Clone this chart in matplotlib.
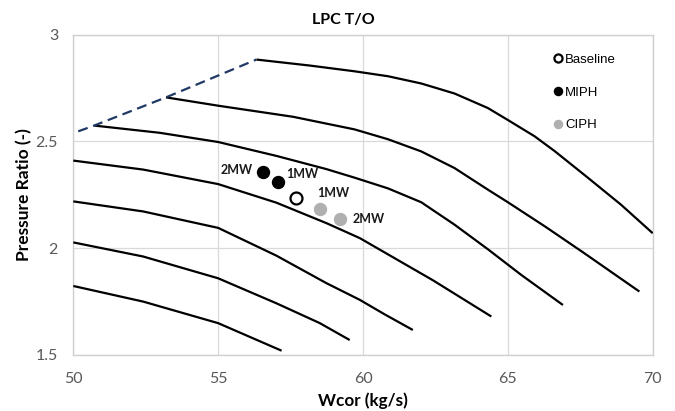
import numpy as np
import matplotlib.pyplot as plt
from matplotlib.lines import Line2D

# --- Data ---
# speed lines (corrected mass flow, pressure ratio)
w_n1 = [56.32, 58.16, 59.71, 60.86, 62.01, 63.16, 64.31, 65.0, 65.92, 66.61, 67.76, 68.91, 70.0]
pr_n1 = [2.883, 2.855, 2.828, 2.805, 2.771, 2.724, 2.656, 2.60, 2.524, 2.455, 2.33, 2.203, 2.07]
w_n2 = [53.20, 55.0, 57.59, 59.71, 60.86, 62.01, 63.16, 64.31, 65.0, 66.3, 67.6, 69.54]
pr_n2 = [2.706, 2.667, 2.615, 2.556, 2.51, 2.453, 2.375, 2.274, 2.215, 2.10, 1.98, 1.797]
w_n3 = [50.72, 52.99, 55.0, 57.01, 58.74, 59.71, 60.86, 62.01, 63.16, 64.31, 65.46, 66.9]
pr_n3 = [2.574, 2.54, 2.497, 2.432, 2.37, 2.33, 2.28, 2.215, 2.11, 1.995, 1.875, 1.734]
w_n4 = [50.0, 52.41, 55.0, 57.01, 58.74, 59.89, 62.41, 64.43]
pr_n4 = [2.41, 2.368, 2.30, 2.213, 2.117, 2.047, 1.85, 1.68]
w_n5 = [50.0, 52.41, 55.0, 57.01, 58.74, 59.89, 60.75, 61.72]
pr_n5 = [2.219, 2.172, 2.095, 1.965, 1.836, 1.758, 1.69, 1.617]
w_n6 = [50.0, 52.41, 55.0, 57.01, 58.51, 59.54]
pr_n6 = [2.027, 1.961, 1.859, 1.742, 1.649, 1.57]
w_n7 = [50.0, 52.41, 55.0, 57.19]
pr_n7 = [1.823, 1.75, 1.649, 1.52]

speed_lines = [(w_n1, pr_n1), (w_n2, pr_n2), (w_n3, pr_n3), (w_n4, pr_n4),
               (w_n5, pr_n5), (w_n6, pr_n6), (w_n7, pr_n7)]

# surge line
w_surge = [50.17, 50.72, 53.20, 56.32]
pr_surge = [2.547, 2.574, 2.706, 2.883]

# operating points
w_base = [57.67]
pr_base = [2.233]
miph_labels = ["2MW", "1MW"]
w_miph = [56.55, 57.05]
pr_miph = [2.357, 2.308]
ciph_labels = ["1MW", "2MW"]
w_ciph = [58.53, 59.22]
pr_ciph = [2.183, 2.138]

x_ticks = [50, 55, 60, 65, 70]
y_ticks = [1.5, 2, 2.5, 3]

# --- Figure ---
fig = plt.figure(figsize=(6.75, 4.11), dpi=100)
ax = fig.add_axes([0.1086, 0.1363, 0.8584, 0.7796])

for w, pr in speed_lines:
    ax.plot(w, pr, color="black", lw=1.6, solid_capstyle="butt",
            solid_joinstyle="round", zorder=3)

ax.plot(w_surge, pr_surge, color="#1f3864", lw=1.6, ls=(0, (4.5, 2.6)), zorder=3)

ms = 8.6
ax.plot(w_base, pr_base, "o", ms=ms, mfc="white", mec="black", mew=1.6, ls="none", zorder=4)
ax.plot(w_miph, pr_miph, "o", ms=ms, color="black", ls="none", zorder=4)
ax.plot(w_ciph, pr_ciph, "o", ms=ms, color="#b0b0b0", ls="none", zorder=4)

lab_font = dict(family="Lato", weight="bold", size=9, color="#1a1a1a")
# label offsets (points) relative to each marker
miph_off = [(-7.5, 1.7, "right"), (6.0, 6.0, "left")]
ciph_off = [(-2.5, 11.5, "left"), (9.0, 0.0, "left")]
for lab, w, pr, (dx, dy, ha) in zip(miph_labels, w_miph, pr_miph, miph_off):
    ax.annotate(lab, (w, pr), xytext=(dx, dy), textcoords="offset points",
                ha=ha, va="center", **lab_font)
for lab, w, pr, (dx, dy, ha) in zip(ciph_labels, w_ciph, pr_ciph, ciph_off):
    ax.annotate(lab, (w, pr), xytext=(dx, dy), textcoords="offset points",
                ha=ha, va="center", **lab_font)

# --- Axes styling ---
ax.set_xlim(50, 70)
ax.set_ylim(1.5, 3)
ax.set_xticks(x_ticks)
ax.set_yticks(y_ticks)
ax.set_yticklabels([f"{v:g}" for v in y_ticks])
ax.tick_params(length=0, labelsize=11.5, labelcolor="#595959", pad=11)
for lbl in ax.get_xticklabels() + ax.get_yticklabels():
    lbl.set_family("Lato")
ax.tick_params(axis="x", pad=12)
ax.grid(True, color="#d9d9d9", lw=0.9, zorder=0)
ax.set_axisbelow(True)
for s in ax.spines.values():
    s.set_color("#d0d0d0")
    s.set_linewidth(1.0)

ax.set_xlabel("Wcor (kg/s)", family="Lato", weight="bold", size=12.3, labelpad=5)
ax.set_ylabel("Pressure Ratio (-)", family="Lato", weight="bold", size=12.5)
ax.yaxis.set_label_coords(-0.07, 0.5)
fig.text(0.508, 0.952, "LPC T/O", ha="center", va="center",
         family="Lato", weight="bold", size=11.5)

# --- Legend ---
handles = [
    Line2D([], [], marker="o", ls="none", ms=ms, mfc="white", mec="black", mew=1.6),
    Line2D([], [], marker="o", ls="none", ms=ms, color="black"),
    Line2D([], [], marker="o", ls="none", ms=ms, color="#b0b0b0"),
]
leg = ax.legend(handles, ["Baseline", "MIPH", "CIPH"], loc="upper left",
                bbox_to_anchor=(0.827, 0.94), frameon=False, markerscale=0.68,
                handlelength=0.8, handletextpad=0.15, labelspacing=1.55,
                borderpad=0, borderaxespad=0,
                prop=dict(family="Liberation Sans", size=9.5))

fig.savefig("out.png", dpi=100)
